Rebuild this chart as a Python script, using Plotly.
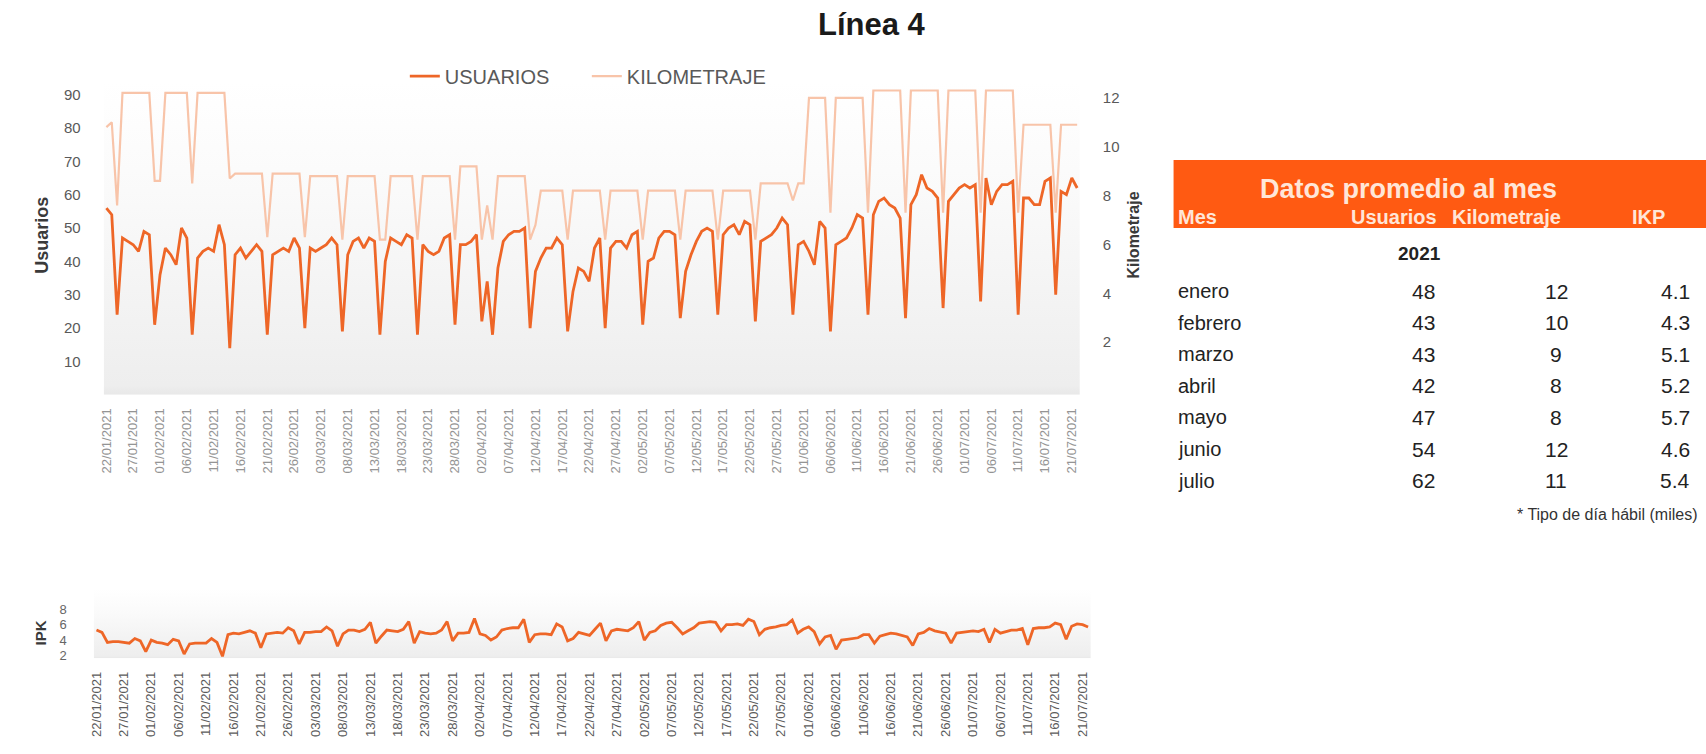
import base64
import pandas as pd
import plotly.graph_objects as go

# ---------------- data ----------------
start_date = "2021-01-22"

usuarios = [
    56, 54, 24,
    47, 46, 45, 43, 49, 48, 21,
    36, 44, 42, 39, 50, 47, 18,
    41, 43, 44, 43, 51, 45, 14,
    42, 44, 41, 43, 45, 43, 18,
    42, 43, 44, 43, 47, 44, 20,
    44, 43, 44, 45, 47, 45, 19,
    42, 46, 47, 44, 47, 46, 18,
    40, 47, 46, 45, 48, 47, 18,
    45, 43, 42, 43, 47, 48, 21,
    45, 45, 46, 48, 22, 34, 18,
    38, 46, 48, 49, 49, 50, 20,
    37, 41, 44, 44, 47, 45, 19,
    31, 38, 37, 34, 44, 47, 20,
    44, 46, 46, 44, 48, 49, 21,
    40, 41, 47, 49, 49, 48, 23,
    37, 42, 46, 49, 50, 49, 24,
    48, 50, 51, 48, 52, 51, 22,
    46, 47, 48, 50, 53, 51, 24,
    45, 46, 43, 39, 52, 50, 19,
    45, 46, 47, 50, 54, 53, 24,
    54, 58, 59, 57, 56, 53, 23,
    57, 60, 66, 62, 61, 59, 26,
    58, 60, 62, 63, 62, 63, 28,
    65, 57, 61, 63, 63, 64, 24,
    59, 59, 57, 57, 64, 65, 30,
    61, 60, 65, 62,
]

kilometraje = [
    10.8, 11.0, 7.6,
    12.2, 12.2, 12.2, 12.2, 12.2, 12.2, 8.6,
    8.6, 12.2, 12.2, 12.2, 12.2, 12.2, 8.5,
    12.2, 12.2, 12.2, 12.2, 12.2, 12.2, 8.7,
    8.9, 8.9, 8.9, 8.9, 8.9, 8.9, 6.3,
    8.9, 8.9, 8.9, 8.9, 8.9, 8.9, 6.3,
    8.8, 8.8, 8.8, 8.8, 8.8, 8.8, 6.2,
    8.8, 8.8, 8.8, 8.8, 8.8, 8.8, 6.2,
    6.2, 8.8, 8.8, 8.8, 8.8, 8.8, 6.2,
    8.8, 8.8, 8.8, 8.8, 8.8, 8.8, 6.2,
    9.2, 9.2, 9.2, 9.2, 6.2, 7.6, 6.2,
    8.8, 8.8, 8.8, 8.8, 8.8, 8.8, 6.2,
    6.8, 8.2, 8.2, 8.2, 8.2, 8.2, 6.2,
    8.2, 8.2, 8.2, 8.2, 8.2, 8.2, 6.2,
    8.2, 8.2, 8.2, 8.2, 8.2, 8.2, 6.2,
    8.2, 8.2, 8.2, 8.2, 8.2, 8.2, 6.2,
    8.2, 8.2, 8.2, 8.2, 8.2, 8.2, 6.2,
    8.2, 8.2, 8.2, 8.2, 8.2, 8.2, 6.2,
    8.5, 8.5, 8.5, 8.5, 8.5, 8.5, 7.8,
    8.5, 8.5, 12.0, 12.0, 12.0, 12.0, 7.3,
    12.0, 12.0, 12.0, 12.0, 12.0, 12.0, 7.3,
    12.3, 12.3, 12.3, 12.3, 12.3, 12.3, 7.3,
    12.3, 12.3, 12.3, 12.3, 12.3, 12.3, 7.3,
    12.3, 12.3, 12.3, 12.3, 12.3, 12.3, 7.3,
    12.3, 12.3, 12.3, 12.3, 12.3, 12.3, 7.3,
    10.9, 10.9, 10.9, 10.9, 10.9, 10.9, 7.3,
    10.9, 10.9, 10.9, 10.9,
]

ipk = [
    5.3, 5.0, 3.7,
    3.8, 3.8, 3.7, 3.6, 4.2, 3.9, 2.5,
    4.0, 3.7, 3.6, 3.4, 4.1, 3.9, 2.2,
    3.5, 3.6, 3.6, 3.6, 4.2, 3.7, 1.9,
    4.7, 4.9, 4.8, 5.0, 5.2, 4.9, 3.0,
    4.8, 4.9, 5.0, 4.9, 5.6, 5.2, 3.5,
    5.0, 5.0, 5.1, 5.1, 5.7, 5.2, 3.2,
    4.8, 5.3, 5.3, 5.1, 5.4, 6.3, 3.6,
    4.5, 5.3, 5.2, 5.1, 5.4, 6.4, 3.6,
    5.1, 4.9, 4.8, 4.9, 5.3, 6.4, 3.9,
    4.9, 4.9, 5.0, 6.8, 4.8, 4.6, 4.0,
    4.4, 5.3, 5.5, 5.6, 5.6, 6.7, 3.7,
    4.7, 4.8, 4.8, 4.7, 6.1, 5.7, 3.9,
    4.2, 5.0, 4.8, 4.6, 5.4, 6.2, 3.9,
    5.2, 5.4, 5.3, 5.2, 5.6, 6.4, 4.0,
    5.0, 5.2, 5.9, 6.2, 6.3, 5.6, 4.8,
    5.2, 5.6, 6.2, 6.3, 6.4, 6.3, 5.2,
    6.0, 6.0, 6.1, 5.9, 6.7, 6.4, 4.7,
    5.4, 5.6, 5.7, 5.9, 6.0, 6.6, 4.9,
    5.4, 5.7, 5.1, 3.5, 4.4, 4.6, 2.8,
    4.0, 4.1, 4.2, 4.3, 4.7, 4.7, 3.6,
    4.5, 4.7, 4.9, 4.8, 4.6, 4.4, 3.3,
    4.8, 5.0, 5.5, 5.2, 5.0, 4.9, 3.6,
    4.9, 5.0, 5.1, 5.2, 5.1, 5.4, 3.7,
    5.4, 4.9, 5.1, 5.3, 5.3, 5.5, 3.4,
    5.5, 5.6, 5.6, 5.7, 6.2, 6.0, 4.1,
    5.8, 6.1, 6.0, 5.7,
]

tick_labels = [
    "22/01/2021", "27/01/2021", "01/02/2021", "06/02/2021", "11/02/2021",
    "16/02/2021", "21/02/2021", "26/02/2021", "03/03/2021", "08/03/2021",
    "13/03/2021", "18/03/2021", "23/03/2021", "28/03/2021", "02/04/2021",
    "07/04/2021", "12/04/2021", "17/04/2021", "22/04/2021", "27/04/2021",
    "02/05/2021", "07/05/2021", "12/05/2021", "17/05/2021", "22/05/2021",
    "27/05/2021", "01/06/2021", "06/06/2021", "11/06/2021", "16/06/2021",
    "21/06/2021", "26/06/2021", "01/07/2021", "06/07/2021", "11/07/2021",
    "16/07/2021", "21/07/2021",
]

meses = ["enero", "febrero", "marzo", "abril", "mayo", "junio", "julio"]
mes_usuarios = [48, 43, 43, 42, 47, 54, 62]
mes_km = [12, 10, 9, 8, 8, 12, 11]
mes_ipk = [4.1, 4.3, 5.1, 5.2, 5.7, 4.6, 5.4]

# ---------------- helpers ----------------
W, H = 1706, 754


def fx(px):
    return px / W


def fy(py):
    return 1 - py / H


dates = pd.date_range(start_date, periods=len(usuarios), freq="D")
tick_dates = pd.to_datetime(tick_labels, format="%d/%m/%Y")
x_range = [dates[0] - pd.Timedelta(hours=12), dates[-1] + pd.Timedelta(hours=12)]

ORANGE = "#EE6627"
KM_COL = "#F8C4A9"
FONT = "Liberation Sans, Arial, sans-serif"


def grad(stops):
    s = ("<svg xmlns='http://www.w3.org/2000/svg' viewBox='0 0 10 100' "
         "preserveAspectRatio='none' width='10' height='100'><defs>"
         "<linearGradient id='g' x1='0' y1='0' x2='0' y2='1'>" + stops +
         "</linearGradient></defs><rect x='0' y='0' width='10' height='100' "
         "fill='url(#g)'/></svg>")
    return "data:image/svg+xml;base64," + base64.b64encode(s.encode()).decode()


bg = grad("<stop offset='0' stop-color='#ffffff'/>"
          "<stop offset='0.35' stop-color='#fafafa'/>"
          "<stop offset='0.97' stop-color='#eeeeee'/>"
          "<stop offset='1' stop-color='#e8e8e8'/>")

# plot boxes (page pixels)
T_L, T_R, T_T, T_B = 99, 1078, 78, 395
B_L, B_R, B_T, B_B = 89, 1089, 610, 662
BG2_T = 592

fig = go.Figure()

fig.add_trace(go.Scatter(
    x=dates, y=kilometraje, name="KILOMETRAJE", mode="lines",
    line=dict(color=KM_COL, width=2.2), xaxis="x", yaxis="y",
    legendrank=2, hoverinfo="x+y"))
fig.add_trace(go.Scatter(
    x=dates, y=usuarios, name="USUARIOS", mode="lines",
    line=dict(color=ORANGE, width=2.8), xaxis="x", yaxis="y2",
    legendrank=1, hoverinfo="x+y"))
fig.add_trace(go.Scatter(
    x=dates, y=ipk, name="IPK", mode="lines", showlegend=False,
    line=dict(color=ORANGE, width=2.8), xaxis="x2", yaxis="y3",
    hoverinfo="x+y"))

common_x = dict(type="date", range=x_range, tickmode="array",
                tickvals=tick_dates, ticktext=tick_labels, tickangle=-90,
                showgrid=False, zeroline=False, showline=False, ticks="")

annotations = []


def ann(text, x, y, size, color="#222222", bold=False, xanchor="center",
        yanchor="middle", angle=0, family=FONT):
    annotations.append(dict(
        text=f"<b>{text}</b>" if bold else text, x=fx(x), y=fy(y),
        xref="paper", yref="paper", showarrow=False, xanchor=xanchor,
        yanchor=yanchor, textangle=angle,
        font=dict(size=size, color=color, family=family)))


# titles
ann("Línea 4", 870, 0, 31, "#1a1a1a", bold=True, yanchor="top")
ann("Usuarios", 37, 233, 18, "#3a3a3a", bold=True, angle=-90)
ann("Kilometraje", 1132, 233, 16, "#3a3a3a", bold=True, angle=-90)
ann("IPK", 36, 636, 15, "#3a3a3a", bold=True, angle=-90)

# table
HDR = "#FFE6D8"
ann("Datos promedio al mes", 1408, 186, 27, HDR, bold=True)
ann("Mes", 1174, 215, 20, HDR, bold=True, xanchor="left")
ann("Usuarios", 1393, 215, 20, HDR, bold=True)
ann("Kilometraje", 1506, 215, 20, HDR, bold=True)
ann("IKP", 1648, 215, 20, HDR, bold=True)
ann("2021", 1419, 252, 19, "#222222", bold=True)
row_y = [290, 322, 354, 386, 418, 450, 482]
for m, u, k, p, yy in zip(meses, mes_usuarios, mes_km, mes_ipk, row_y):
    ann(m, 1174, yy, 20, "#222222", xanchor="left")
    ann(str(u), 1423, yy, 21, "#222222")
    ann(str(k), 1556, yy, 21, "#222222")
    ann(f"{p:.1f}", 1675, yy, 21, "#222222")
ann("* Tipo de día hábil (miles)", 1514, 516, 16, "#333333", xanchor="left")

fig.update_layout(
    width=W, height=H, margin=dict(l=0, r=0, t=0, b=0),
    paper_bgcolor="white", plot_bgcolor="rgba(0,0,0,0)",
    font=dict(family=FONT, color="#595959"),
    showlegend=True,
    legend=dict(orientation="h", x=fx(401), y=fy(72), xanchor="left",
                yanchor="middle", font=dict(size=20, color="#595959"),
                bgcolor="rgba(0,0,0,0)", entrywidth=137,
                entrywidthmode="pixels", traceorder="normal"),
    xaxis=dict(domain=[fx(T_L), fx(T_R)], anchor="y",
               tickfont=dict(size=13, color="#949494"),
               ticklabelstandoff=10, **common_x),
    yaxis=dict(domain=[fy(T_B), fy(T_T)], anchor="x", side="right",
               range=[-0.15, 12.65], tickvals=[2, 4, 6, 8, 10, 12],
               tickfont=dict(size=15, color="#595959"), showgrid=False,
               zeroline=False, showline=False, ticklabelstandoff=22),
    yaxis2=dict(overlaying="y", side="left", anchor="x",
                range=[0, 93.8], tickvals=[10, 20, 30, 40, 50, 60, 70, 80, 90],
                tickfont=dict(size=15, color="#595959"), showgrid=False,
                zeroline=False, showline=False, ticklabelstandoff=22),
    xaxis2=dict(domain=[fx(B_L), fx(B_R)], anchor="y3",
                tickfont=dict(size=13, color="#5c5c5c"),
                ticklabelstandoff=10, **common_x),
    yaxis3=dict(domain=[fy(B_B), fy(B_T)], anchor="x2",
                range=[1.65, 8.3], tickvals=[2, 4, 6, 8],
                tickfont=dict(size=13, color="#666666"), showgrid=False,
                zeroline=False, showline=False, ticklabelstandoff=26),
    annotations=annotations,
    shapes=[dict(type="rect", xref="paper", yref="paper",
                 x0=fx(1172), x1=fx(1720), y0=fy(226), y1=fy(157),
                 fillcolor="#FF5A12", line=dict(width=0), layer="below")],
    images=[
        dict(source=bg, xref="paper", yref="paper", x=fx(T_L), y=fy(T_T),
             sizex=(T_R - T_L) / W, sizey=(T_B - T_T) / H, xanchor="left",
             yanchor="top", sizing="stretch", layer="below"),
        dict(source=bg, xref="paper", yref="paper", x=fx(B_L), y=fy(BG2_T),
             sizex=(B_R - B_L) / W, sizey=(B_B - BG2_T) / H, xanchor="left",
             yanchor="top", sizing="stretch", layer="below"),
    ],
)

fig.write_html("out.html",
               config={"displayModeBar": False},
               post_script="document.body.style.margin='0px';"
                           "document.body.style.overflow='hidden';")
